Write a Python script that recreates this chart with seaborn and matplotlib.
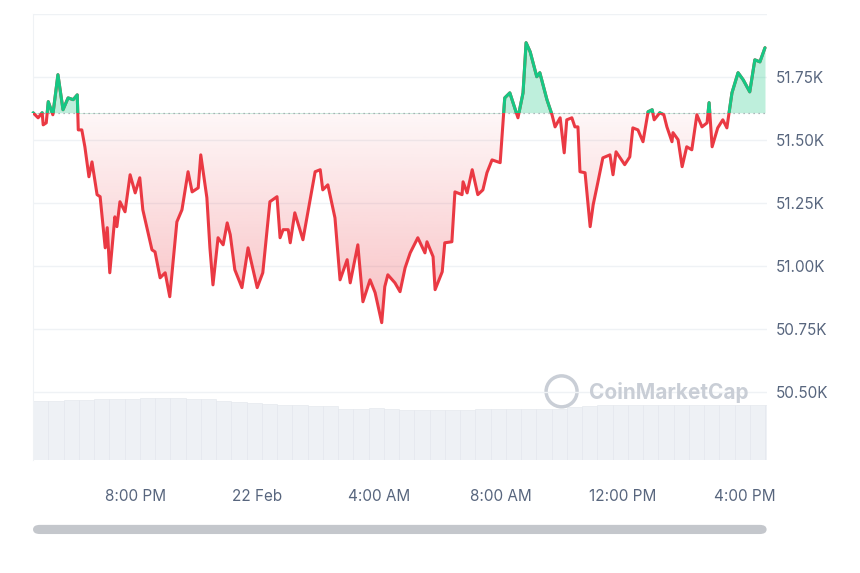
import numpy as np
import pandas as pd
import matplotlib
matplotlib.use("Agg")
import matplotlib.pyplot as plt
import seaborn as sns
from matplotlib.patches import Rectangle, FancyBboxPatch, Ellipse

# minutes since 16:39 (21 Feb) and price in USD
minutes = [0, 4, 10, 18, 20, 26, 30, 39, 49, 59, 69, 79, 87, 89, 96, 102, 110, 116, 126, 132,
           142, 146, 151, 161, 165, 171, 181, 191, 201, 210, 216, 234, 240, 250, 260, 269, 283, 293, 305, 313,
           325, 330, 342, 348, 354, 364, 374, 382, 388, 397, 411, 423, 433, 441, 452, 466, 480, 486, 492, 502,
           506, 515, 531, 555, 565, 570, 580, 594, 604, 618, 624, 639, 649, 663, 673, 686, 692, 698, 712, 722,
           732, 742, 757, 771, 775, 787, 791, 805, 810, 824, 830, 844, 846, 854, 864, 875, 885, 893, 903, 919,
           928, 938, 954, 964, 970, 978, 991, 997, 1011, 1021, 1027, 1037, 1045, 1050, 1060, 1066, 1072, 1076, 1086, 1096,
           1102, 1111, 1121, 1135, 1141, 1147, 1164, 1174, 1180, 1190, 1200, 1210, 1218, 1222, 1233, 1241, 1247, 1257, 1259, 1269,
           1277, 1286, 1296, 1306, 1316, 1326, 1330, 1336, 1347, 1357, 1365, 1375, 1387, 1397, 1410, 1420, 1430, 1440]
price = [51608, 51600, 51588, 51608, 51560, 51568, 51652, 51600, 51759, 51620, 51667, 51660, 51679, 51540, 51540, 51473, 51354, 51413, 51283, 51275,
         51072, 51152, 50973, 51195, 51156, 51255, 51215, 51362, 51290, 51350, 51223, 51064, 51056, 50953, 50973, 50878, 51175, 51223, 51374, 51294,
         51310, 51441, 51271, 51072, 50925, 51112, 51084, 51171, 51124, 50985, 50914, 51072, 50985, 50914, 50973, 51255, 51275, 51112, 51144, 51144,
         51092, 51211, 51104, 51374, 51382, 51302, 51322, 51191, 50945, 51025, 50933, 51084, 50858, 50945, 50894, 50775, 50918, 50965, 50933, 50898,
         50993, 51052, 51112, 51052, 51096, 51037, 50906, 50977, 51092, 51096, 51294, 51283, 51334, 51290, 51382, 51283, 51302, 51370, 51421, 51410,
         51667, 51687, 51588, 51687, 51886, 51850, 51751, 51767, 51660, 51600, 51552, 51588, 51449, 51580, 51588, 51552, 51552, 51374, 51370, 51156,
         51243, 51330, 51429, 51441, 51362, 51453, 51402, 51433, 51548, 51540, 51493, 51612, 51620, 51580, 51608, 51600, 51552, 51493, 51529, 51501,
         51394, 51473, 51461, 51600, 51552, 51568, 51648, 51473, 51548, 51580, 51548, 51687, 51767, 51739, 51691, 51818, 51810, 51866]

# half-hour volume bins (relative)
volume = [59, 59, 60, 60, 61, 61, 61, 62, 62, 62, 61, 61, 59, 58, 57, 56, 55, 55, 54, 54,
          51, 51, 52, 51, 50, 50, 50, 50, 50, 51, 51, 51, 51, 51, 51, 53, 54, 55, 55, 55,
          55, 55, 55, 55, 55, 55, 55, 55, 55]
vol_start = [30 * i for i in range(len(volume))]

tick_minutes = [201, 441, 681, 921, 1161, 1401]
tick_labels = ["8:00 PM", "22 Feb", "4:00 AM", "8:00 AM", "12:00 PM", "4:00 PM"]
y_ticks = [50500, 50750, 51000, 51250, 51500, 51750]
y_labels = ["50.50K", "50.75K", "51.00K", "51.25K", "51.50K", "51.75K"]

RED = "#ea3943"
GREEN = "#16c784"
base = price[0]

sns.set_style("white")
plt.rcParams["font.family"] = ["Inter", "DejaVu Sans"]

fig = plt.figure(figsize=(8.6, 5.73), dpi=100)
ax = fig.add_axes([0.0384, 0.1972, 0.8535, 0.7784])
df = pd.DataFrame({"t": minutes, "p": price})

# volume on a twin axis at the bottom
axv = ax.twinx()
axv.bar(vol_start, volume, width=30, align="edge", color="#eef1f5", edgecolor="#e2e6ec", linewidth=0.4)
axv.set_ylim(0, max(volume) * 7.2)
axv.set_yticks([])
axv.set_zorder(0)
ax.set_zorder(1)
ax.patch.set_visible(False)
for s in axv.spines.values():
    s.set_visible(False)

t = np.array(minutes, dtype=float)
p = np.array(price, dtype=float)
ax.set_xlim(0, 1444)
ax.set_ylim(50230, 52000)

above = Rectangle((-100, base), 2000, 5000, transform=ax.transData)
below = Rectangle((-100, base - 5000), 2000, 5000, transform=ax.transData)

# fills
fg = ax.fill_between(t, p, base, color=GREEN, alpha=0.28, linewidth=0)
fg.set_clip_path(above)
fr = ax.fill_between(t, p, base, color="none", linewidth=0)
fr.set_clip_path(below)
grad = np.linspace(0.04, 0.32, 256).reshape(-1, 1)
rgba = np.zeros((256, 1, 4))
rgba[..., :3] = matplotlib.colors.to_rgb(RED)
rgba[..., 3] = grad
img = ax.imshow(rgba, extent=[0, 1444, base, min(price)], aspect="auto", origin="lower", zorder=1)
img.set_clip_path(fr.get_paths()[0], transform=ax.transData)
ax.set_xlim(0, 1444)
ax.set_ylim(50230, 52000)

# lines
sns.lineplot(data=df, x="t", y="p", ax=ax, color=RED, linewidth=2.2, zorder=3)
sns.lineplot(data=df, x="t", y="p", ax=ax, color=GREEN, linewidth=2.2, zorder=4)
ax.get_lines()[1].set_clip_path(above)
ax.axhline(base, color="#9aa0a8", linestyle=(0, (1, 3)), linewidth=0.9, zorder=2)

# grid and axes
for v in y_ticks + [52000]:
    ax.axhline(v, color="#eff2f5", linewidth=1, zorder=0)
ax.yaxis.tick_right()
ax.set_yticks(y_ticks)
ax.set_yticklabels(y_labels)
ax.set_xticks(tick_minutes)
ax.set_xticklabels(tick_labels)
ax.tick_params(axis="both", length=0, labelsize=11, colors="#58667e")
ax.tick_params(axis="x", pad=21)
ax.tick_params(axis="y", pad=6)
ax.set_xlabel("")
ax.set_ylabel("")
for name, s in ax.spines.items():
    s.set_visible(name == "left")
    s.set_color("#eff2f5")

# watermark
fig.text(0.685, 0.315, "CoinMarketCap", fontsize=15, fontweight="bold", color="#c9ced6", va="center")
logo = Ellipse((0.653, 0.317), 0.036, 0.036 * 860 / 573, transform=fig.transFigure,
               fill=False, edgecolor="#c9ced6", linewidth=2.5)
fig.add_artist(logo)

# scrollbar
bar = FancyBboxPatch((0.0384, 0.068), 0.853, 0.016, boxstyle="round,pad=0,rounding_size=0.008",
                     transform=fig.transFigure, facecolor="#c4c7cc", edgecolor="none")
fig.add_artist(bar)

fig.savefig("out.png", dpi=100)
